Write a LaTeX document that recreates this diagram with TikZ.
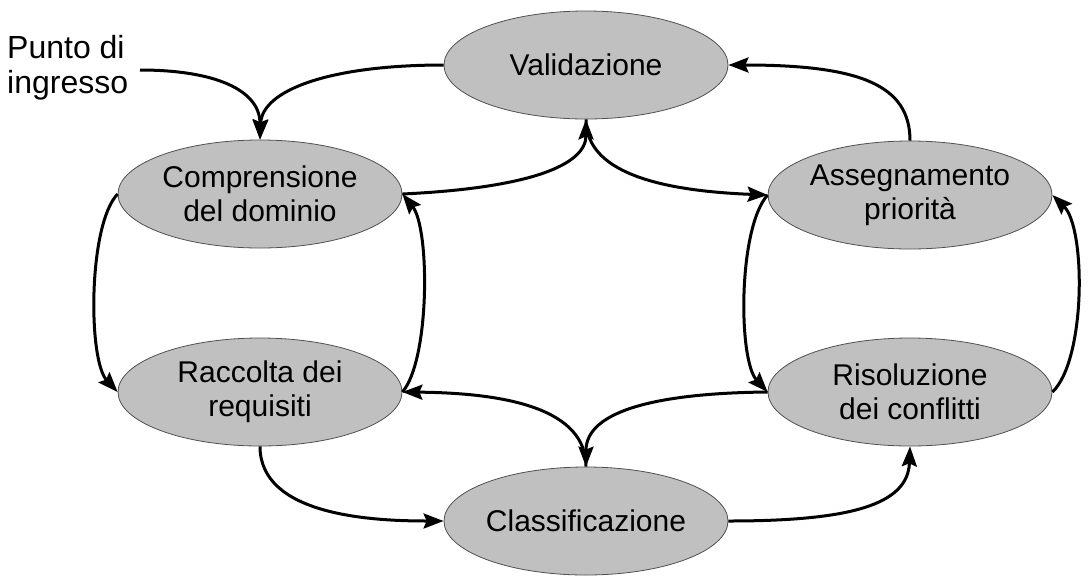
\documentclass[tikz,border=0pt]{standalone}
\usepackage{fontspec}
\setmainfont{Liberation Sans}
\usetikzlibrary{shapes.geometric,arrows.meta}
\definecolor{nodegray}{RGB}{192,192,192}
\definecolor{edgegray}{RGB}{80,80,80}
\begin{document}
\begin{tikzpicture}[x=1pt,y=-1pt,
  state/.style={ellipse,draw=edgegray,line width=0.8pt,fill=nodegray,minimum width=284pt,minimum height=108pt,inner sep=0pt,align=center,font=\fontsize{30}{34}\selectfont},
  flow/.style={line width=3pt,-{Stealth[length=20pt,width=15pt,inset=3pt]}}]
\useasboundingbox (0,0) rectangle (1092,582);
\node[state] (val) at (586,65) {Validazione};
\node[state] (comp) at (260,194) {Comprensione\\del dominio};
\node[state] (ass) at (910,195) {Assegnamento\\priorità};
\node[state] (racc) at (260,392) {Raccolta dei\\requisiti};
\node[state] (ris) at (910,392) {Risoluzione\\dei conflitti};
\node[state] (cls) at (586,521) {Classificazione};
\node[anchor=west,inner sep=0pt,align=left,font=\fontsize{32}{35}\selectfont] (entry) at (7,68) {Punto di\\ingresso};
\coordinate (entryout) at (140,70);
\draw[flow] (entryout) .. controls (215,70) and (260,90) .. (comp.north);
\draw[flow] (val.west) .. controls (330,65) and (262,90) .. (comp.north);
\draw[flow] (comp.east) .. controls (530,188) and (586,165) .. (val.south);
\draw[flow] (val.south) .. controls (586,165) and (640,190) .. (ass.west);
\draw[flow] (ass.north) .. controls (910,85) and (860,65) .. (val.east);
\draw[flow] (comp.west) .. controls (88,225) and (88,360) .. (racc.west);
\draw[flow] (racc.east) .. controls (430,360) and (430,228) .. (comp.east);
\draw[flow] (cls.north) .. controls (586,410) and (510,393) .. (racc.east);
\draw[flow] (ris.west) .. controls (660,393) and (586,410) .. (cls.north);
\draw[flow] (racc.south) .. controls (260,515) and (370,521) .. (cls.west);
\draw[flow] (cls.east) .. controls (850,521) and (908,505) .. (ris.south);
\draw[flow] (ass.west) .. controls (738,228) and (738,360) .. (ris.west);
\draw[flow] (ris.east) .. controls (1086,360) and (1086,228) .. (ass.east);
\end{tikzpicture}
\end{document}
